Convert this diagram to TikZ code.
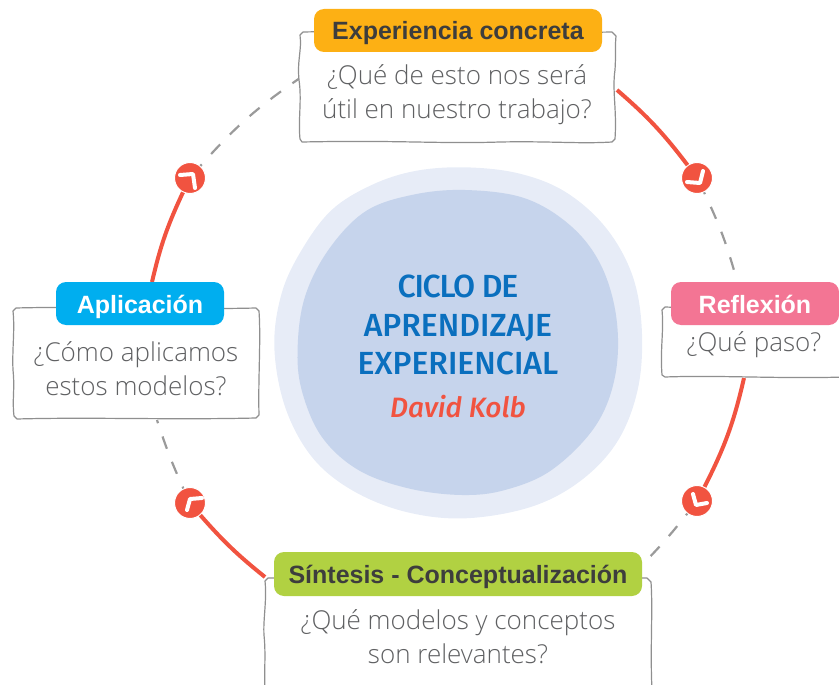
\documentclass[tikz,border=0pt]{standalone}
\usepackage{fontspec}
\setmainfont{Open Sans Light}
\newfontfamily\headf{Liberation Sans}[UprightFont=* Bold]
\newfontfamily\handf{Fira Sans}[UprightFont=* Medium,ItalicFont=* Medium Italic]
\newfontfamily\handt{Fira Sans}[UprightFont=* Medium,LetterSpace=-4]
\definecolor{cRed}{HTML}{F15340}
\definecolor{cGrey}{HTML}{9A9A9A}
\definecolor{cBox}{HTML}{8F8F8F}
\definecolor{cTxt}{HTML}{5F6062}
\definecolor{cDark}{HTML}{3D3D3D}
\definecolor{cOrange}{HTML}{FDB014}
\definecolor{cPink}{HTML}{F37594}
\definecolor{cCyan}{HTML}{00AEEF}
\definecolor{cGreen}{HTML}{B1D142}
\definecolor{cOuter}{HTML}{E7ECF7}
\definecolor{cInner}{HTML}{C6D4EC}
\definecolor{cBlue}{HTML}{0A6FBE}
\tikzset{
  x=1pt,y=-1pt,
  handbox/.style={draw=cBox,line width=1.2pt,line join=round,fill=white},
  pill/.style={rectangle,rounded corners=10pt,inner sep=0pt,anchor=center,text height=20pt,text depth=1pt,font=\headf\fontsize{25}{28}\selectfont},
  body/.style={align=center,text=cTxt,inner sep=0pt,font=\fontsize{26}{34}\selectfont},
  marker/.style={circle,fill=cRed,draw=white,line width=1pt,minimum size=31pt,inner sep=0pt},
  chev/.style={draw=white,line width=4pt,line cap=round,line join=round},
  solidarc/.style={draw=cRed,line width=4pt},
  dasharc/.style={draw=cGrey,line width=2.2pt,dash pattern=on 13pt off 14pt,dash phase=11pt},
  zoomed/.style={shift={(265,160)},x=0.33333pt,y=-0.33333pt},
}
\begin{document}
\begin{tikzpicture}
\useasboundingbox (0,0) rectangle (839,685);
% central blobs
\fill[cOuter,zoomed] plot[smooth cycle,tension=0.6] coordinates {(600,22) (760,40) (900,95) (1020,200) (1100,340) (1130,500) (1120,680) (1060,840) (950,960) (800,1040) (600,1075) (420,1055) (260,990) (140,890) (60,740) (28,560) (50,400) (110,270) (200,150) (320,75) (450,33)};
\fill[cInner,zoomed] plot[smooth cycle,tension=0.6] coordinates {(600,90) (780,115) (920,200) (1010,320) (1055,480) (1050,650) (990,800) (860,930) (720,990) (590,1005) (430,985) (280,930) (170,830) (110,690) (98,560) (120,410) (190,270) (300,155) (440,105)};
\node[inner sep=0pt,align=center,text=cBlue,font=\handf\fontsize{32}{38.5}\selectfont] (title) at (458,325) {{\handt CICLO DE}\\APRENDIZAJE\\EXPERIENCIAL};
\node[inner sep=0pt,text=cRed,font=\handf\itshape\fontsize{28}{32}\selectfont] (author) at (458,407) {David Kolb};
% anchors of connectors
\coordinate (e1) at (617,90);
\coordinate (e2) at (300,78);
\coordinate (r1) at (737,281);
\coordinate (r2) at (744,378);
\coordinate (s1) at (642,565);
\coordinate (s2) at (265,577);
\coordinate (a1) at (157,420);
\coordinate (a2) at (152,282);
% markers
\node[marker] (m1) at (697,178) {};
\node[marker] (m2) at (697,501) {};
\node[marker] (m3) at (190,503) {};
\node[marker] (m4) at (190,178) {};
% connectors
\draw[solidarc] (e1) to[bend left=6] (m1);
\draw[dasharc] (m1) to[bend left=5] (r1);
\draw[solidarc] (r2) to[bend left=7] (m2);
\draw[dasharc] (m2) to[bend left=3] (s1);
\draw[solidarc] (s2) to[bend left=5] (m3);
\draw[dasharc] (m3) to[bend left=3] (a1);
\draw[solidarc] (a2) to[bend left=6] (m4);
\draw[dasharc] (m4) to[bend left=7] (e2);
% chevrons
\draw[chev,shift={(m1)}] (-10,4) -- (3,5) -- (6,-7);
\draw[chev,shift={(m2)}] (-4,-7) -- (-1,4) -- (10,2);
\draw[chev,shift={(m3)}] (-3,7) -- (0,-4) -- (12,-5);
\draw[chev,shift={(m4)}] (-10,-3) -- (3,-4) -- (5,10);
% hand-drawn boxes
\draw[handbox] (300,35) .. controls (302,50) and (297,60) .. (299,80) .. controls (302,100) and (298,120) .. (300,139) -- (302,142)
  .. controls (400,140) and (440,144) .. (500,142) .. controls (550,141) and (580,144) .. (612,142) -- (615,139)
  .. controls (617,110) and (612,90) .. (615,70) .. controls (616,55) and (615,45) .. (616,36) -- (612,32)
  .. controls (500,34) and (400,30) .. (303,32) -- cycle;
\draw[handbox] (662,310) .. controls (664,330) and (660,350) .. (662,375) -- (665,377)
  .. controls (720,375) and (780,379) .. (845,377) -- (845,308)
  .. controls (780,306) and (720,309) .. (665,307) -- cycle;
\draw[handbox] (13,311) .. controls (15,330) and (12,350) .. (13,370) .. controls (15,390) and (12,400) .. (14,416) -- (17,419)
  .. controls (90,417) and (170,420) .. (256,418) -- (259,415)
  .. controls (258,380) and (261,340) .. (259,311) -- (256,308)
  .. controls (170,310) and (90,306) .. (16,308) -- cycle;
\draw[handbox] (265,581) .. controls (267,600) and (263,620) .. (264,635) .. controls (266,655) and (264,670) .. (265,690) -- (652,690)
  .. controls (650,650) and (653,610) .. (651,582) -- (647,578)
  .. controls (520,580) and (400,576) .. (268,578) -- cycle;
% headers
\node[pill,fill=cOrange,text=cDark,minimum width=288pt,minimum height=43pt] (hE) at (458,30.5) {Experiencia concreta};
\node[pill,fill=cPink,text=white,minimum width=168pt,minimum height=43pt] (hR) at (755,303.5) {Reflexión};
\node[pill,fill=cCyan,text=white,minimum width=168pt,minimum height=43pt] (hA) at (140,303.5) {Aplicación};
\node[pill,fill=cGreen,text=cDark,minimum width=368pt,minimum height=44pt] (hS) at (458,574) {Síntesis - Conceptualización};
% bodies
\node[body] (bE) at (457,95) {¿Qué de esto nos será\\útil en nuestro trabajo?};
\node[body] (bR) at (754,345) {¿Qué paso?};
\node[body] (bA) at (136,369) {¿Cómo aplicamos\\estos modelos?};
\node[body] (bS) at (458,637) {¿Qué modelos y conceptos\\son relevantes?};
\end{tikzpicture}
\end{document}
